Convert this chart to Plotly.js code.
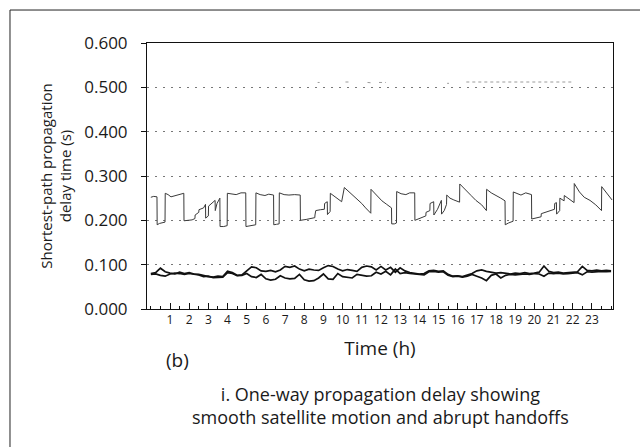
<!DOCTYPE html>
<html>
<head>
<meta charset="utf-8">
<script src="https://cdn.plot.ly/plotly-3.0.1.min.js"></script>
<style>
  html, body { margin: 0; padding: 0; background: #ffffff; }
  #chart { width: 640px; height: 447px; }
</style>
</head>
<body>
<div id="chart"></div>
<script>
// ---- Data ----
// Upper path: delay (s) vs time (h), with abrupt handoffs
const upperHours = [0.00,0.15,0.32,0.33,0.45,0.60,0.74,0.75,0.90,1.05,1.25,1.50,1.72,1.73,1.95,2.15,2.30,2.31,2.50,2.51,2.75,2.85,2.86,3.00,3.01,3.20,3.35,3.36,3.45,3.60,3.61,3.80,3.98,3.99,4.20,4.45,4.70,4.95,4.96,5.20,5.47,5.48,5.70,5.95,6.15,6.40,6.41,6.55,6.69,6.70,6.95,7.20,7.50,7.79,7.80,8.10,8.35,8.55,8.56,8.60,8.85,9.05,9.06,9.20,9.21,9.35,9.36,9.60,9.80,9.95,10.09,10.40,10.70,11.00,11.20,11.47,11.48,11.75,12.05,12.30,12.55,12.56,12.70,12.81,12.82,13.05,13.30,13.50,13.76,13.77,14.00,14.20,14.34,14.35,14.55,14.56,14.75,14.76,14.95,15.15,15.16,15.30,15.42,15.43,15.60,15.80,16.00,16.10,16.11,16.40,16.70,16.95,17.25,17.50,17.51,17.75,18.00,18.25,18.47,18.48,18.65,18.89,18.90,19.10,19.30,19.55,19.85,19.86,20.10,20.35,20.36,20.60,20.80,21.05,21.06,21.15,21.16,21.32,21.33,21.55,21.56,21.80,22.07,22.08,22.35,22.60,22.90,23.20,23.50,23.51,23.75,24.05];
const upperDelay = [0.252,0.254,0.253,0.190,0.193,0.194,0.196,0.261,0.258,0.253,0.255,0.258,0.261,0.199,0.200,0.201,0.204,0.212,0.218,0.224,0.228,0.236,0.205,0.210,0.232,0.240,0.245,0.222,0.238,0.250,0.186,0.186,0.188,0.261,0.259,0.258,0.262,0.262,0.186,0.188,0.190,0.262,0.258,0.256,0.259,0.257,0.190,0.191,0.192,0.262,0.258,0.257,0.258,0.257,0.200,0.202,0.204,0.206,0.212,0.222,0.224,0.225,0.238,0.242,0.213,0.220,0.261,0.253,0.247,0.242,0.274,0.262,0.250,0.238,0.228,0.216,0.270,0.258,0.244,0.236,0.228,0.192,0.192,0.194,0.265,0.260,0.258,0.262,0.262,0.200,0.204,0.207,0.210,0.218,0.222,0.238,0.242,0.212,0.225,0.245,0.214,0.222,0.236,0.257,0.250,0.246,0.242,0.241,0.282,0.268,0.256,0.245,0.235,0.222,0.270,0.262,0.255,0.250,0.244,0.190,0.194,0.198,0.264,0.260,0.257,0.262,0.258,0.203,0.205,0.208,0.215,0.218,0.222,0.225,0.238,0.240,0.214,0.222,0.250,0.244,0.256,0.248,0.240,0.283,0.264,0.252,0.245,0.235,0.222,0.276,0.262,0.246];

// Lower paths: two noisy near-direct routes
const lowerHours = [0.00,0.25,0.50,0.75,1.00,1.25,1.50,1.75,2.00,2.25,2.50,2.75,3.00,3.25,3.50,3.75,4.00,4.25,4.50,4.75,5.00,5.25,5.50,5.75,6.00,6.25,6.50,6.75,7.00,7.25,7.50,7.75,8.00,8.25,8.50,8.75,9.00,9.25,9.50,9.75,10.00,10.25,10.50,10.75,11.00,11.25,11.50,11.75,12.00,12.25,12.50,12.75,13.00,13.25,13.50,13.75,14.00,14.25,14.50,14.75,15.00,15.25,15.50,15.75,16.00,16.25,16.50,16.75,17.00,17.25,17.50,17.75,18.00,18.25,18.50,18.75,19.00,19.25,19.50,19.75,20.00,20.25,20.50,20.75,21.00,21.25,21.50,21.75,22.00,22.25,22.50,22.75,23.00,23.25,23.50,23.75,24.00];
const lowerDelayA = [0.080,0.082,0.092,0.084,0.081,0.079,0.083,0.080,0.082,0.079,0.078,0.075,0.073,0.072,0.074,0.073,0.085,0.082,0.076,0.077,0.085,0.095,0.093,0.086,0.085,0.087,0.084,0.088,0.096,0.094,0.097,0.090,0.086,0.090,0.088,0.087,0.093,0.098,0.096,0.090,0.086,0.089,0.087,0.085,0.094,0.097,0.095,0.088,0.096,0.088,0.094,0.083,0.093,0.086,0.082,0.081,0.079,0.080,0.086,0.087,0.085,0.086,0.078,0.074,0.075,0.073,0.076,0.080,0.086,0.088,0.085,0.083,0.081,0.082,0.080,0.079,0.081,0.080,0.082,0.080,0.081,0.083,0.097,0.085,0.082,0.083,0.081,0.082,0.083,0.084,0.096,0.087,0.086,0.088,0.086,0.087,0.086];
const lowerDelayB = [0.078,0.079,0.076,0.074,0.079,0.081,0.080,0.078,0.080,0.078,0.077,0.073,0.074,0.071,0.072,0.072,0.082,0.080,0.075,0.076,0.080,0.073,0.071,0.078,0.068,0.065,0.067,0.075,0.070,0.068,0.069,0.078,0.066,0.063,0.064,0.070,0.079,0.068,0.067,0.080,0.073,0.071,0.070,0.078,0.076,0.074,0.075,0.083,0.079,0.085,0.077,0.090,0.080,0.082,0.080,0.079,0.078,0.077,0.084,0.085,0.083,0.084,0.076,0.073,0.074,0.072,0.074,0.078,0.074,0.070,0.064,0.076,0.079,0.070,0.076,0.078,0.077,0.078,0.079,0.078,0.080,0.079,0.074,0.081,0.080,0.081,0.079,0.080,0.081,0.082,0.077,0.084,0.083,0.084,0.085,0.084,0.085];

// Faint intermittent long path near 0.51 s
const farHours = [8.70,8.80,null,10.15,10.45,null,11.30,11.55,null,11.90,12.25,null,15.45,15.55,null,16.45,17.30,19.70,20.50,22.05];
const farDelay = [0.511,0.511,null,0.512,0.512,null,0.511,0.510,null,0.511,0.511,null,0.509,0.509,null,0.512,0.512,0.513,0.512,0.512];

const xTickHours = [1,2,3,4,5,6,7,8,9,10,11,12,13,14,15,16,17,18,19,20,21,22,23];
const yTickValues = [0,0.1,0.2,0.3,0.4,0.5,0.6];
const yTickLabels = ['0.000','0.100','0.200','0.300','0.400','0.500','0.600'];

const FONT = 'Open Sans, Noto Sans, sans-serif';
const INK = '#1a1a1a';

const traces = [
  { x: farHours, y: farDelay, type: 'scatter', mode: 'lines', connectgaps: false,
    line: { color: '#9a9a9a', width: 1, dash: 'dot' }, hoverinfo: 'skip' },
  { x: upperHours, y: upperDelay, type: 'scatter', mode: 'lines',
    line: { color: '#3a3a3a', width: 1 } },
  { x: lowerHours, y: lowerDelayA, type: 'scatter', mode: 'lines',
    line: { color: '#111111', width: 1.7 } },
  { x: lowerHours, y: lowerDelayB, type: 'scatter', mode: 'lines',
    line: { color: '#111111', width: 1.7 } }
];

const layout = {
  width: 640, height: 447,
  margin: { l: 147, r: 27, t: 43, b: 138, pad: 0 },
  paper_bgcolor: '#ffffff', plot_bgcolor: '#ffffff',
  showlegend: false,
  font: { family: FONT, color: INK },
  xaxis: {
    range: [-0.2, 24.1],
    tickmode: 'array', tickvals: xTickHours, ticktext: xTickHours.map(String),
    ticks: 'inside', ticklen: 6, tickcolor: '#111', tickwidth: 1,
    minor: { ticks: 'inside', ticklen: 3, dtick: 0.5, tick0: 0, tickcolor: '#111', showgrid: false },
    tickfont: { family: FONT, size: 12, color: INK },
    showgrid: false, zeroline: false,
    showline: true, linecolor: '#111', linewidth: 1, mirror: true,
    title: { text: 'Time (h)', font: { family: FONT, size: 19, color: INK }, standoff: 14 },
    automargin: false
  },
  yaxis: {
    range: [0, 0.6],
    tickmode: 'array', tickvals: yTickValues, ticktext: yTickLabels,
    ticks: 'outside', ticklen: 5, tickcolor: '#111', tickwidth: 1,
    ticklabelstandoff: 10,
    tickfont: { family: FONT, size: 17, color: INK },
    showgrid: true, gridcolor: '#777', griddash: '2px,6px', gridwidth: 1,
    zeroline: false,
    showline: true, linecolor: '#111', linewidth: 1, mirror: true,
    title: { text: 'Shortest-path propagation<br>delay time (s)', font: { family: FONT, size: 15, color: INK }, standoff: 8 },
    automargin: false
  },
  annotations: [
    { text: '(b)', xref: 'paper', yref: 'paper', x: 0.0665, y: -0.193, showarrow: false,
      font: { family: FONT, size: 19, color: INK }, xanchor: 'center', yanchor: 'middle' },
    { text: 'i. One-way propagation delay showing<br>smooth satellite motion and abrupt handoffs',
      xref: 'paper', yref: 'paper', x: 0.5, y: -0.362, showarrow: false,
      font: { family: FONT, size: 18, color: INK }, xanchor: 'center', yanchor: 'middle' }
  ],
  shapes: [
    { type: 'line', xref: 'paper', yref: 'paper', x0: -0.294, x1: 1.06, y0: 1.124, y1: 1.124,
      line: { color: '#222', width: 1 } },
    { type: 'line', xref: 'paper', yref: 'paper', x0: -0.294, x1: -0.294, y0: 1.124, y1: -0.52,
      line: { color: '#222', width: 1 } }
  ]
};

Plotly.newPlot('chart', traces, layout, { staticPlot: true, displayModeBar: false });
</script>
</body>
</html>
